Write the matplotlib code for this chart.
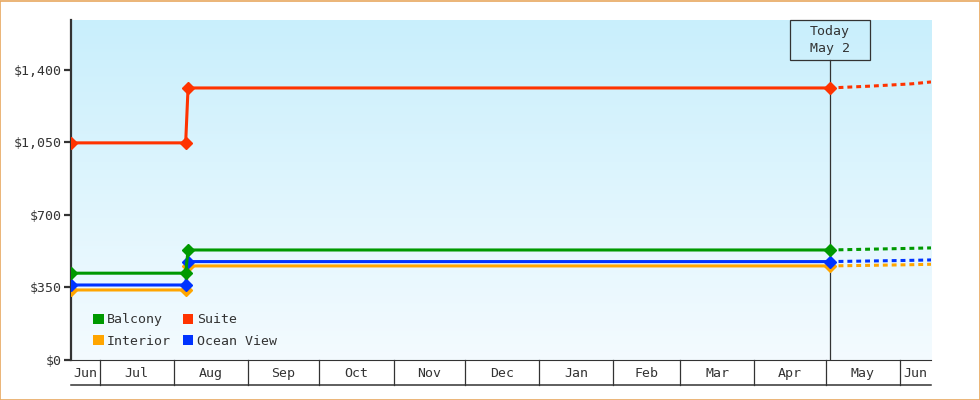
import numpy as np
import pandas as pd
import matplotlib
matplotlib.use("Agg")
import matplotlib.pyplot as plt
from matplotlib.patches import Patch, Rectangle
from matplotlib.transforms import blended_transform_factory

plt.rcParams['font.family'] = ['DejaVu Sans Mono']

# ---- data ----
x_start = pd.Timestamp('2024-06-19')
x_end = pd.Timestamp('2025-06-14')
today = pd.Timestamp('2025-05-02 14:00')

hist_dates = pd.to_datetime(['2024-06-19 00:00', '2024-08-06 00:00', '2024-08-07 00:00', '2025-05-02 14:00'])
fc_dates = pd.to_datetime(['2025-05-02 14:00', '2025-05-20 00:00', '2025-06-06 00:00', '2025-06-14 00:00'])

names = ['Interior', 'Ocean View', 'Balcony', 'Suite']
colors = {'Balcony': '#009900', 'Suite': '#ff3300',
          'Interior': '#ffa500', 'Ocean View': '#0033ff'}
hist = {
    'Interior':   [338, 338, 454, 454],
    'Ocean View': [362, 362, 475, 475],
    'Balcony':    [419, 419, 531, 531],
    'Suite':      [1048, 1048, 1313, 1313],
}
forecast = {
    'Interior':   [454, 457, 460, 462],
    'Ocean View': [475, 478, 481, 483],
    'Balcony':    [531, 535, 539, 541],
    'Suite':      [1313, 1322, 1333, 1342],
}
y_ticks = [0, 350, 700, 1050, 1400]
y_labels = ['$0', '$350', '$700', '$1,050', '$1,400']
y_max = 1641
legend_order = ['Balcony', 'Interior', 'Suite', 'Ocean View']

dark = '#333333'
fs = 9.5

fig = plt.figure(figsize=(9.8, 4), dpi=100)
ax = fig.add_axes([71/980, 40/400, 860/980, 340/400])

# gradient background
grad = np.linspace(0, 1, 256).reshape(-1, 1)
top = np.array([201, 239, 252]) / 255
bot = np.array([244, 251, 255]) / 255
img = top[None, None, :] * (1 - grad[:, :, None]) + bot[None, None, :] * grad[:, :, None]
ax.imshow(img, extent=[0, 1, 0, 1], transform=ax.transAxes, aspect='auto', zorder=0)

for n in names:
    c = colors[n]
    ax.plot(hist_dates, hist[n], color=c, lw=2.2, marker='D', ms=6.3,
            solid_capstyle='butt', zorder=3)
    ax.plot(fc_dates, forecast[n], color=c, lw=2.2, ls=(0, (1.6, 1.3)),
            dash_capstyle='butt', zorder=3)

ax.set_xlim(x_start, x_end)
ax.set_ylim(0, y_max)

# spines and y ticks
for s in ['top', 'right']:
    ax.spines[s].set_visible(False)
ax.spines['left'].set_color(dark)
ax.spines['left'].set_linewidth(1.6)
ax.spines['bottom'].set_color(dark)
ax.spines['bottom'].set_linewidth(0.8)
ax.set_yticks(y_ticks)
ax.set_yticklabels(y_labels)
ax.tick_params(axis='y', length=5, width=1.6, color=dark, labelcolor=dark,
               labelsize=fs, pad=2)
ax.set_xticks([])

# month band under the axis
tr = blended_transform_factory(ax.transData, ax.transAxes)
band = 25 / 340
ax.plot([0, 1], [-band, -band], transform=ax.transAxes, color=dark, lw=1.1, clip_on=False)
bounds = [x_start] + list(pd.date_range(x_start, x_end, freq='MS')) + [x_end]
for i in range(len(bounds) - 1):
    a, b = bounds[i], bounds[i + 1]
    if 0 < i:
        ax.plot([a, a], [0, -band], transform=tr, color=dark, lw=0.9, clip_on=False)
    mid = a + (b - a) / 2
    ax.text(mid, -band / 2 - 0.003, a.strftime('%b'), transform=tr, ha='center', va='center',
            fontsize=fs, color=dark)

# today marker
span_days = (x_end - x_start) / pd.Timedelta(days=1)
box_w = pd.Timedelta(days=80 * span_days / 860)
box_h = 40 / 340
ax.axvline(today, ymin=0, ymax=1 - box_h, color=dark, lw=0.9, zorder=2)
ax.add_patch(Rectangle((today - box_w / 2, 1 - box_h), box_w, box_h, transform=tr,
                       facecolor='none', edgecolor=dark, lw=0.9, clip_on=False, zorder=4))
ax.text(today, 1 - box_h / 2, 'Today\nMay 2', transform=tr, ha='center', va='center',
        fontsize=fs, color=dark, linespacing=1.35)

# legend
handles = [Patch(facecolor=colors[n], edgecolor='none', label=n) for n in legend_order]
leg = ax.legend(handles=handles, ncol=2, loc='lower left', bbox_to_anchor=(0.018, 0.017),
                frameon=False, fontsize=fs, handlelength=0.8, handleheight=0.8,
                handletextpad=0.25, columnspacing=0.9, labelspacing=0.62, borderpad=0)
for t in leg.get_texts():
    t.set_color(dark)

fig.patches.append(Rectangle((0.0005, 0.001), 0.999, 0.9975, transform=fig.transFigure,
                             fill=False, edgecolor='#e8a860', lw=1.2))

fig.savefig('out.png', dpi=100)
